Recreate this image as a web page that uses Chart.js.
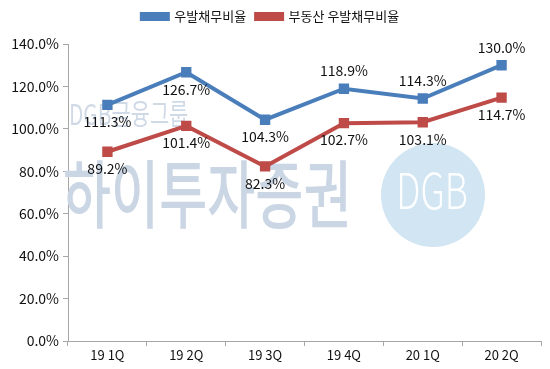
<!DOCTYPE html>
<html><head><meta charset="utf-8">
<script src="https://cdn.jsdelivr.net/npm/chart.js@4/dist/chart.umd.min.js"></script>
<style>html,body{margin:0;padding:0;background:#fff}#wrap{width:550px;height:369px;position:relative}</style>
</head><body><div id="wrap"><canvas id="c" width="550" height="369"></canvas></div>
<script>
const categories = ['19 1Q','19 2Q','19 3Q','19 4Q','20 1Q','20 2Q'];
const contingentDebt = [111.3, 126.7, 104.3, 118.9, 114.3, 130.0];
const realEstateContingentDebt = [89.2, 101.4, 82.3, 102.7, 103.1, 114.7];
const seriesNames = ['우발채무비율', '부동산 우발채무비율'];
const yTicks = [0, 20, 40, 60, 80, 100, 120, 140];
const blueLabelAbove = [false, false, false, true, true, true];

const FONT = '"Noto Sans CJK KR","Noto Sans",sans-serif';

const watermark = {
  id: 'watermark',
  beforeDatasetsDraw(chart) {
    const ctx = chart.ctx;
    ctx.save();
    ctx.textBaseline = 'middle';
    ctx.textAlign = 'left';
    ctx.save();
    ctx.fillStyle = 'rgb(208,218,231)';
    ctx.translate(69, 114);
    ctx.scale(0.72, 1);
    ctx.font = '29px ' + FONT;
    ctx.fillText('DGB금융그룹', 0, 0);
    ctx.restore();
    ctx.save();
    ctx.fillStyle = 'rgb(203,214,229)';
    ctx.translate(63, 194);
    ctx.scale(0.67, 0.95);
    ctx.font = '500 78px ' + FONT;
    ctx.fillText('하이투자증권', 0, 0);
    ctx.restore();
    ctx.beginPath();
    ctx.fillStyle = 'rgb(210,229,242)';
    ctx.arc(433, 195, 52, 0, Math.PI * 2);
    ctx.fill();
    ctx.save();
    ctx.fillStyle = 'rgba(255,255,255,0.95)';
    ctx.translate(432, 190);
    ctx.scale(0.72, 1);
    ctx.textAlign = 'center';
    ctx.font = '300 50px ' + FONT;
    ctx.fillText('DGB', 0, 0);
    ctx.restore();
    ctx.restore();
  }
};

const dataLabels = {
  id: 'dataLabels',
  afterDatasetsDraw(chart) {
    const ctx = chart.ctx;
    ctx.save();
    ctx.font = '14px ' + FONT;
    ctx.fillStyle = '#111';
    ctx.textAlign = 'center';
    ctx.textBaseline = 'middle';
    chart.data.datasets.forEach((ds, di) => {
      const meta = chart.getDatasetMeta(di);
      meta.data.forEach((pt, i) => {
        const above = di === 0 && blueLabelAbove[i];
        const y = above ? pt.y - 18 : pt.y + 17;
        ctx.fillText(ds.data[i].toFixed(1) + '%', pt.x, y);
      });
    });
    ctx.restore();
  }
};

const legendMargin = {
  id: 'legendMargin',
  beforeInit(chart) {
    const lg = chart.legend;
    const origFit = lg.fit;
    lg.fit = function () { origFit.call(this); this.height += 11; };
  }
};

new Chart(document.getElementById('c'), {
  type: 'line',
  data: {
    labels: categories,
    datasets: [
      { label: seriesNames[0], data: contingentDebt, borderColor: '#4A7EBB', backgroundColor: '#4A7EBB',
        borderWidth: 4, pointStyle: 'rect', pointRadius: 4.5, pointHoverRadius: 4.5, tension: 0 },
      { label: seriesNames[1], data: realEstateContingentDebt, borderColor: '#BE4B48', backgroundColor: '#BE4B48',
        borderWidth: 4, pointStyle: 'rect', pointRadius: 4.5, pointHoverRadius: 4.5, tension: 0 }
    ]
  },
  options: {
    responsive: false,
    animation: false,
    devicePixelRatio: 1,
    layout: { padding: { left: 0, right: 9, top: 0, bottom: 0 } },
    plugins: {
      tooltip: { enabled: false },
      legend: {
        position: 'top',
        labels: {
          font: { family: FONT, size: 13 },
          color: '#111',
          boxWidth: 26, boxHeight: 5,
          padding: 10
        }
      }
    },
    scales: {
      x: {
        offset: true,
        grid: { display: true, drawOnChartArea: false, offset: true, tickLength: 5, color: '#a6a6a6' },
        border: { color: '#a6a6a6', width: 1 },
        ticks: { font: { family: FONT, size: 13 }, color: '#111', padding: 1 },
        afterFit(s) { s.height = 28; }
      },
      y: {
        min: 0, max: 140,
        afterBuildTicks(s) { s.ticks = yTicks.map(v => ({ value: v })); },
        grid: { display: true, drawOnChartArea: false, tickLength: 5, color: '#a6a6a6' },
        border: { color: '#a6a6a6', width: 1 },
        ticks: { font: { family: FONT, size: 14 }, color: '#111', padding: 4,
          callback: v => Number(v).toFixed(1) + '%' },
        afterFit(s) { s.width = 68; }
      }
    }
  },
  plugins: [legendMargin, watermark, dataLabels]
});
</script></body></html>
